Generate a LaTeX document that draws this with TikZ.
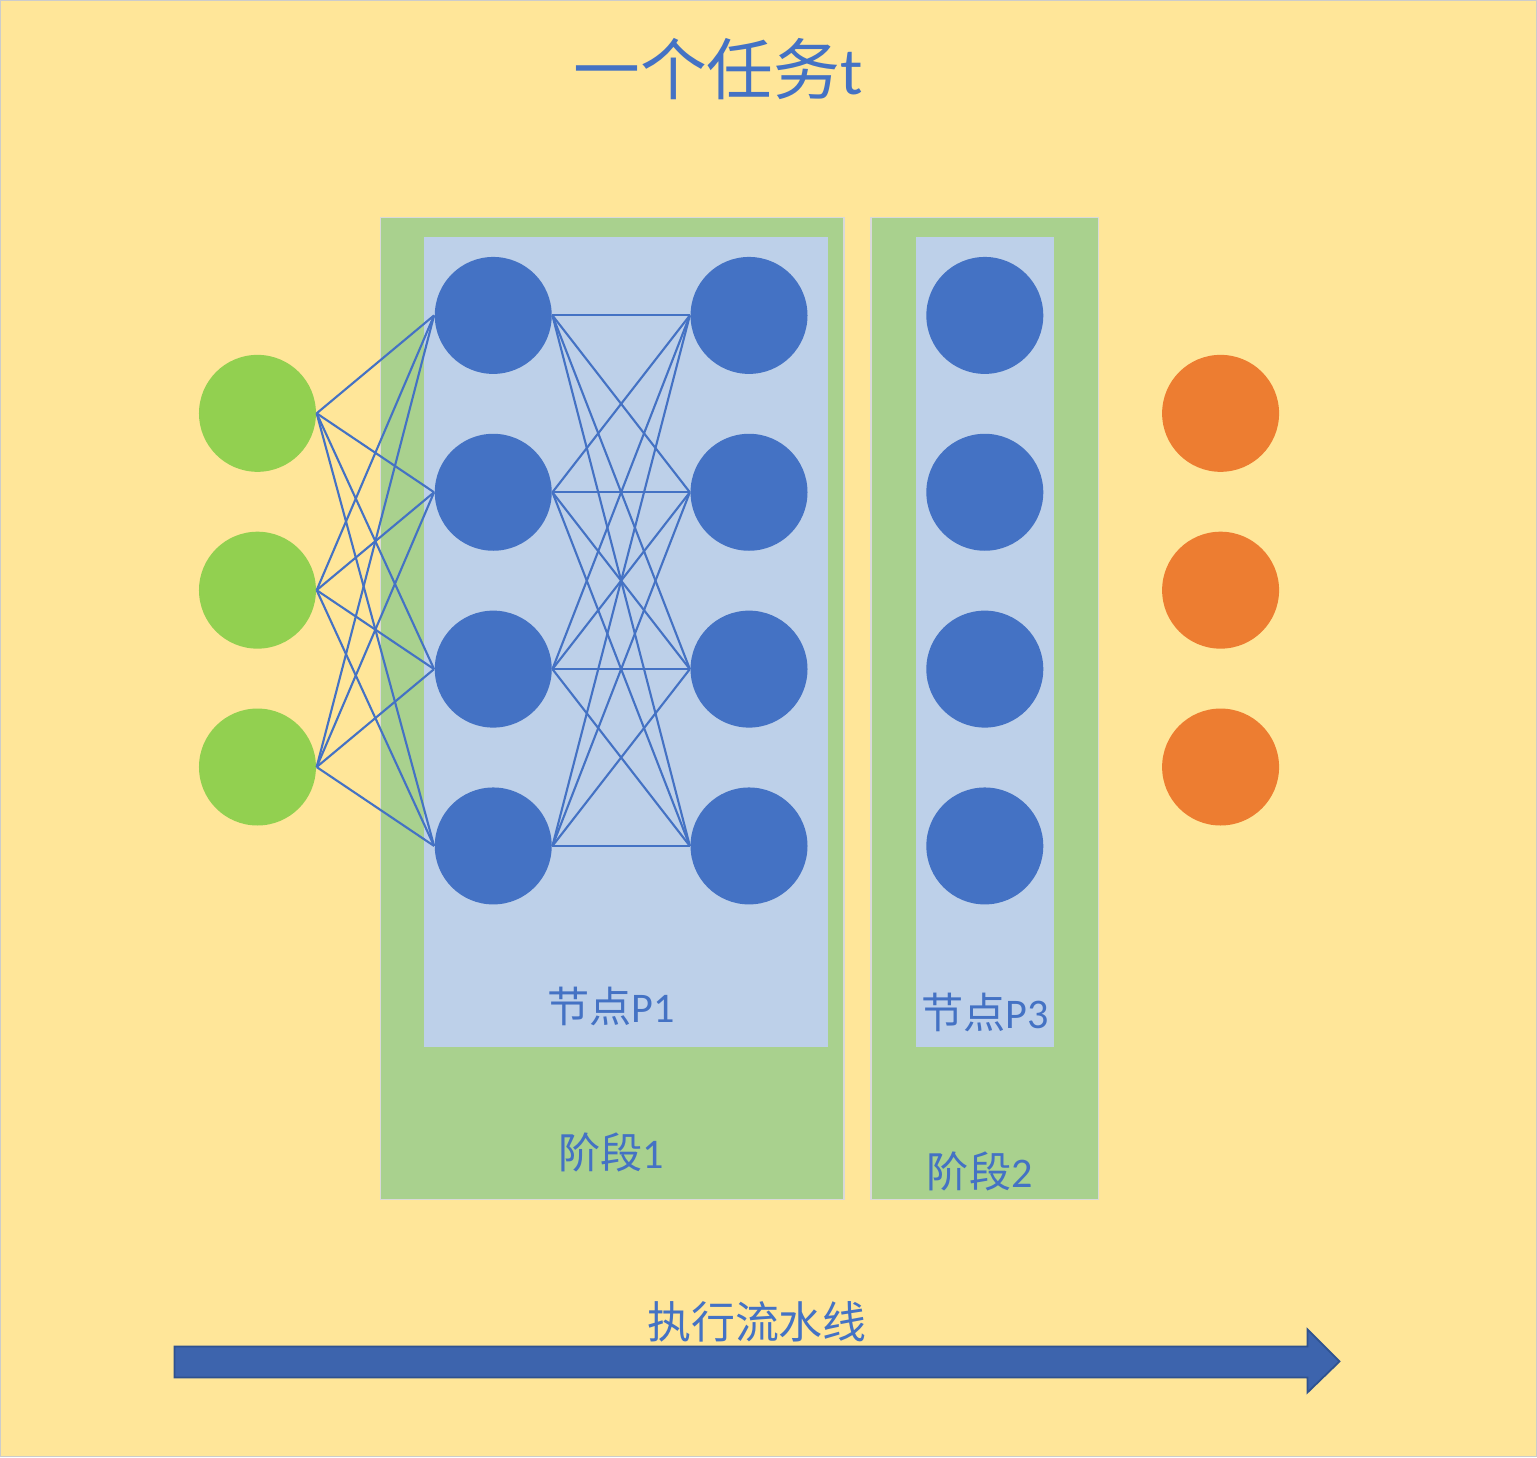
\documentclass[tikz,border=0pt]{standalone}
\usepackage{fontspec}
\setmainfont{Carlito}
\newfontfamily\cjk{Noto Sans CJK SC}
\definecolor{bgyellow}{HTML}{FFE699}
\definecolor{stagegreen}{HTML}{A9D18E}
\definecolor{nodepale}{HTML}{BDD0E9}
\definecolor{unitblue}{HTML}{4472C4}
\definecolor{ingreen}{HTML}{92D050}
\definecolor{outorange}{HTML}{ED7D31}
\definecolor{pipeblue}{HTML}{3D64AD}
\definecolor{pipeedge}{HTML}{2F528F}
\tikzset{
  unit/.style={circle, minimum size=1.17cm, inner sep=0pt, fill=#1},
  edge/.style={draw=unitblue, line width=0.6pt},
  lbl/.style={text=unitblue, inner sep=0pt, font=\fontsize{12}{14}\selectfont},
}
\begin{document}
\begin{tikzpicture}[x=0.01cm, y=-0.01cm]
% background
\fill[bgyellow, draw=black!20] (0,0) rectangle (1537,1457);
\useasboundingbox (0,0) rectangle (1537,1457);
\node[text=unitblue, inner sep=0pt, font=\fontsize{19}{22}\selectfont] (title) at (718,68) {\cjk 一个任务\rmfamily t};
% stages
\fill[stagegreen, draw=black!15] (380,217) rectangle (844,1200);
\fill[nodepale] (424,236) rectangle (828,1047);
\fill[stagegreen, draw=black!15] (871,217) rectangle (1099,1200);
\fill[nodepale] (916,236) rectangle (1054,1047);
% units
\foreach \i/\y in {1/413, 2/590, 3/767}{
  \node[unit=ingreen] (in\i) at (257,\y) {};
  \node[unit=outorange] (out\i) at (1221,\y) {};
}
\foreach \i/\y in {1/315, 2/492, 3/669, 4/846}{
  \node[unit=unitblue] (a\i) at (493,\y) {};
  \node[unit=unitblue] (b\i) at (749,\y) {};
  \node[unit=unitblue] (c\i) at (985,\y) {};
}
% full connections
\foreach \i in {1,2,3}
  \foreach \j in {1,...,4}
    \draw[edge] (in\i.east) -- (a\j.west);
\foreach \i in {1,...,4}
  \foreach \j in {1,...,4}
    \draw[edge] (a\i.east) -- (b\j.west);
% labels
\node[lbl] (p1) at (611,1007) {\cjk 节点\rmfamily P1};
\node[lbl] (p3) at (985,1013) {\cjk 节点\rmfamily P3};
\node[lbl] (s1) at (611,1153) {\cjk 阶段\rmfamily 1};
\node[lbl] (s2) at (980,1172) {\cjk 阶段\rmfamily 2};
% pipeline arrow
\filldraw[fill=pipeblue, draw=pipeedge, line width=0.5pt]
  (174,1347) -- (1308,1347) -- (1308,1330) -- (1340,1362) -- (1308,1393)
  -- (1308,1378) -- (174,1378) -- cycle;
\node[lbl, font=\fontsize{12.5}{15}\selectfont] (pipe) at (757,1322) {\cjk 执行流水线};
\end{tikzpicture}
\end{document}
